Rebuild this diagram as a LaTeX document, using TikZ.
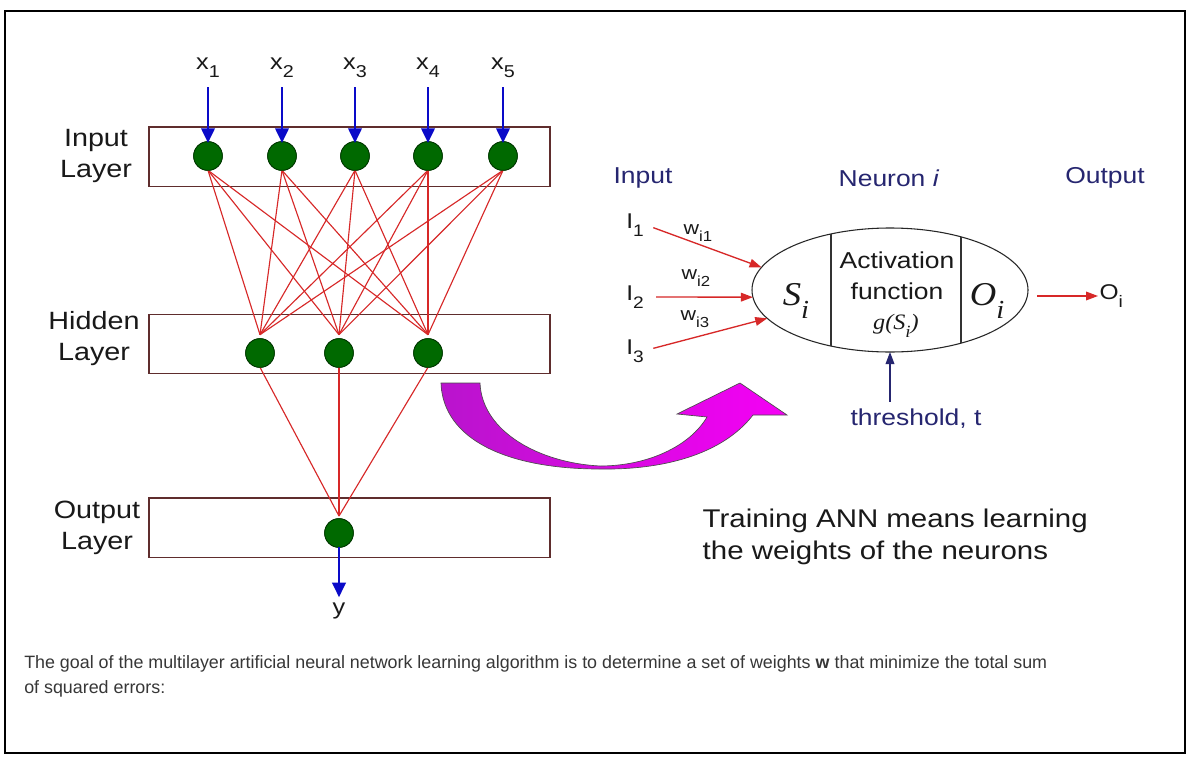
\documentclass[tikz,border=0pt]{standalone}
\usepackage{fontspec}
\usepackage{graphicx}
\setmainfont{Liberation Sans}[FakeStretch=1.15]
\newfontfamily\mathserif{Liberation Serif}[FakeStretch=1.1]
\newfontfamily\notefont{Liberation Sans}
\usetikzlibrary{arrows.meta,shapes.geometric}

\definecolor{navytext}{RGB}{38,38,112}
\definecolor{inputblue}{RGB}{10,10,200}
\definecolor{weightred}{RGB}{215,40,40}
\definecolor{ballgreen}{RGB}{0,105,0}
\definecolor{balledge}{RGB}{0,55,0}
\definecolor{boxedge}{RGB}{95,45,45}
\definecolor{arrowviolet}{RGB}{185,20,205}
\definecolor{arrowmagenta}{RGB}{245,0,245}
\definecolor{notegray}{RGB}{55,55,55}
\definecolor{inktext}{RGB}{25,25,25}

% subscript set lower and smaller than the letter it follows
\newcommand\lowsub[1]{\raisebox{-0.38em}{\scalebox{0.78}{#1}}}
\newcommand\fsize[2]{\fontsize{#1}{#2}\selectfont}

\begin{document}
\begin{tikzpicture}[x=0.75pt,y=-0.75pt,
  layerbox/.style={draw=boxedge,line width=1pt,minimum width=300.75pt,minimum height=44.5pt,inner sep=0pt,outer sep=0pt},
  layertext/.style={align=center,text=inktext,font=\fsize{18.75pt}{23.25pt}},
  ball/.style={circle,fill=ballgreen,draw=balledge,line width=0.6pt,minimum size=21.5pt,inner sep=0pt,outer sep=0pt},
  xlab/.style={text=inktext,font=\fsize{16.5pt}{18pt},inner sep=1pt},
  bluearrow/.style={draw=inputblue,line width=2pt,-{Triangle[length=11pt,width=10pt]}},
  weightline/.style={draw=weightred,line width=0.85pt},
  headtext/.style={text=navytext,font=\fsize{17.25pt}{20pt}},
  redarrow/.style={draw=weightred,line width=1pt,-{Triangle[length=9pt,width=6.5pt]}},
  inlab/.style={text=inktext,font=\fsize{16pt}{18pt},inner sep=1pt},
  wlab/.style={text=inktext,font=\fsize{14pt}{16pt},inner sep=1pt},
  serifsym/.style={text=inktext,font=\mathserif\itshape\fsize{25pt}{27pt},inner sep=0pt},
  celltext/.style={text=inktext,align=center,font=\fsize{17.25pt}{23.25pt}},
  bigtext/.style={text=inktext,align=left,anchor=west,font=\fsize{19.2pt}{24pt}},
  notetext/.style={text=notegray,anchor=base west,inner sep=0pt,font=\notefont\fsize{13.4pt}{15pt}}
]
\useasboundingbox (0,0) rectangle (1193,761);
\fill[white] (0,0) rectangle (1193,761);
\draw[line width=1.4pt] (5,11) rectangle (1185,753);

% ---- three layers of the network ----
\node[layerbox] (inbox)  at (349.5,156.5) {};
\node[layerbox] (hidbox) at (349.5,344) {};
\node[layerbox] (outbox) at (349.5,527.5) {};

\node[layertext] (inlabel)  at (96,155.5) {Input\\Layer};
\node[layertext] (hidlabel) at (94,339)   {Hidden\\Layer};
\node[layertext] (outlabel) at (97,527.5) {Output\\Layer};

\foreach \x [count=\i] in {208,282,355,428,503}
  \node[ball] (in\i) at (\x,156) {};
\foreach \x [count=\j] in {260,339,428}
  \node[ball] (hid\j) at (\x,353) {};
\node[ball] (out) at (339,533) {};

% connections between layers
\foreach \i in {1,...,5}
  \foreach \j in {1,2,3}
    \draw[weightline] (in\i.south) -- ([yshift=3pt]hid\j.north);
\foreach \j in {1,2,3}
  \draw[weightline] (hid\j.south) -- ([yshift=2pt]out.north);

% redraw the balls above the wires
\foreach \x in {208,282,355,428,503}
  \node[ball] at (\x,156) {};
\foreach \x in {260,339,428}
  \node[ball] at (\x,353) {};
\node[ball] at (339,533) {};

% inputs and output of the network
\foreach \x [count=\i] in {208,282,355,428,503} {
  \node[xlab] (x\i) at (\x,68) {x\lowsub{\i}};
  \draw[bluearrow] (in\i.north |- 0,87) -- ([yshift=-1pt]in\i.north);
}
\node[xlab] (ylab) at (339,611) {y};
\draw[bluearrow] (out.south) -- ([yshift=3pt]ylab.north);

% ---- single neuron ----
\node[headtext] (hin)  at (643,178) {Input};
\node[headtext] (hneu) at (889,178) {Neuron \textit{i}};
\node[headtext] (hout) at (1105,178) {Output};

\node[ellipse,draw=black!85,line width=0.8pt,minimum width=207pt,minimum height=93pt,inner sep=0pt,outer sep=0pt] (neuron) at (890,290) {};
\draw[black!80,line width=0.8pt] (831,234) -- (831,346);
\draw[black!80,line width=0.8pt] (961,236.8) -- (961,343.2);

\node[serifsym] (sum) at (796,301) {S\lowsub{i}};
\node[serifsym] (outv) at (987,301) {O\lowsub{i}};
\node[celltext] (act) at (897,276) {Activation\\function};
\node[text=inktext,font=\mathserif\itshape\fsize{16.5pt}{18pt}] (gfun) at (896,326) {g(S\lowsub{i})};

\node[inlab] (I1) at (635,225) {I\lowsub{1}};
\node[inlab] (I2) at (635,297) {I\lowsub{2}};
\node[inlab] (I3) at (635,351) {I\lowsub{3}};
\node[wlab] (w1) at (698,233) {w\lowsub{i1}};
\node[wlab] (w2) at (696,278) {w\lowsub{i2}};
\node[wlab] (w3) at (695,319) {w\lowsub{i3}};

\draw[redarrow] ([xshift=6pt,yshift=-2pt]I1.east) -- (neuron.170);
\draw[redarrow] ([xshift=8pt]I2.east) -- (neuron.183);
\draw[redarrow] ([xshift=6pt,yshift=2pt]I3.east) -- (neuron.193);

\node[inlab,anchor=west] (oi) at (1098,296) {O\lowsub{i}};
\draw[redarrow,shorten <=7pt] (neuron.east |- oi.west) -- (oi.west);

\node[headtext] (thr) at (916,419) {threshold, t};
\draw[draw=navytext,line width=1pt,-{Triangle[length=9pt,width=6.5pt]}] ([yshift=2pt]thr.north -| neuron.south) -- (neuron.south);

% ---- curved arrow from the network to the neuron ----
\path[left color=arrowviolet,right color=arrowmagenta,draw=black!70,line width=0.5pt]
  (441,383) -- (480,383)
  .. controls (482,432) and (540,463) .. (600,466)
  .. controls (648,466) and (690,446) .. (707,417)
  -- (677,414) -- (740,383) -- (787,415) -- (753,415)
  .. controls (722,455) and (662,470) .. (600,469)
  .. controls (508,469) and (443,440) .. (441,383) -- cycle;

\node[bigtext] (train) at (698,537) {Training ANN means learning\\the weights of the neurons};

\node[notetext] (note1) at (24,668) {The goal of the multilayer artificial neural network learning algorithm is to determine a set of weights \textbf{w} that minimize the total sum};
\node[notetext] (note2) at (24,693) {of squared errors:};
\end{tikzpicture}
\end{document}
